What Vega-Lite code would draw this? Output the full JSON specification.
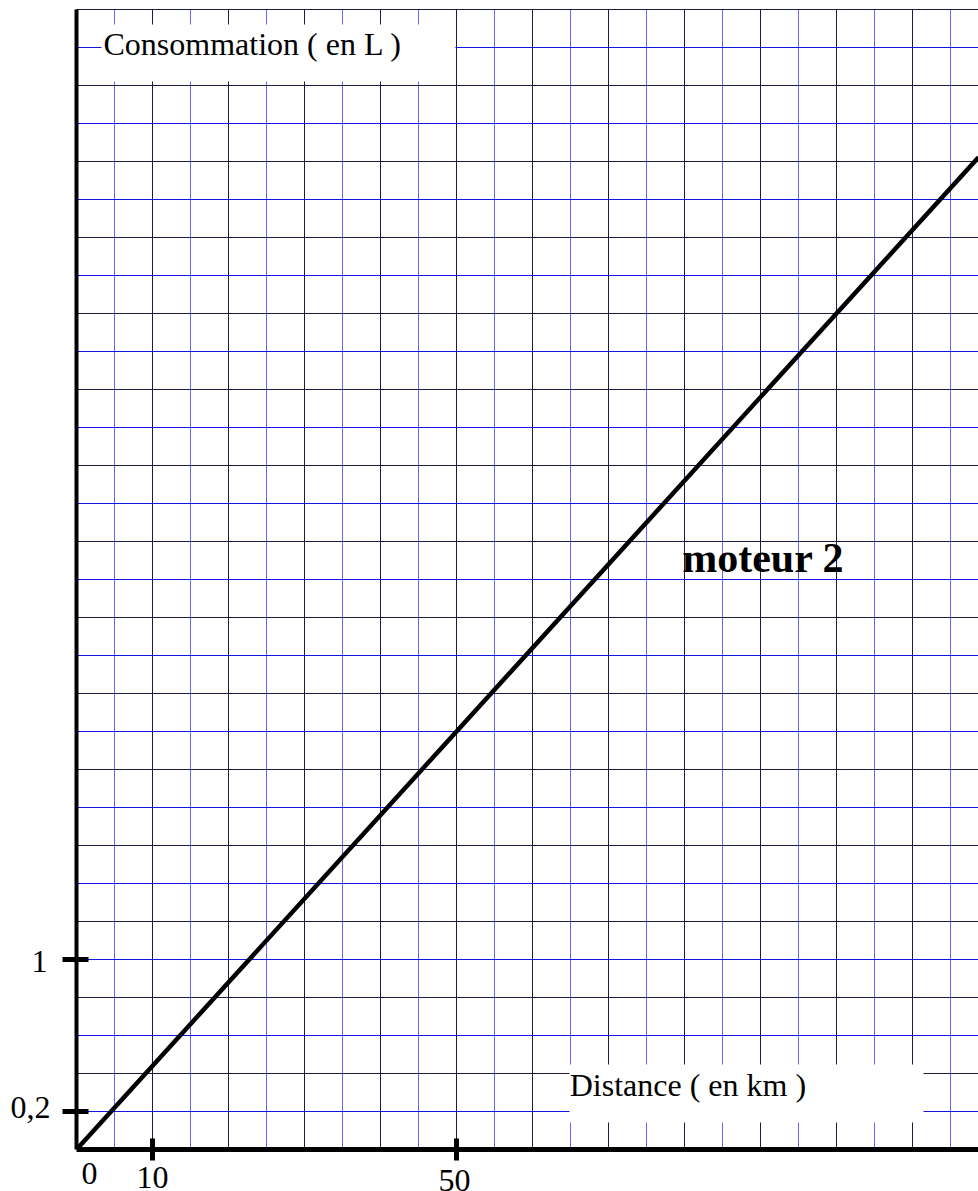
{
  "$schema": "https://vega.github.io/schema/vega-lite/v6.json",
  "autosize": {"type": "none"},
  "padding": {"left": 76.5, "top": 9.5, "right": 0, "bottom": 41.5},
  "width": 902,
  "height": 1140,
  "background": "white",
  "config": {"view": {"stroke": null}},
  "datasets": {
    "vgrid": [
      {"km": 5, "kind": "minor"}, {"km": 10, "kind": "major"}, {"km": 15, "kind": "minor"}, {"km": 20, "kind": "major"},
      {"km": 25, "kind": "minor"}, {"km": 30, "kind": "major"}, {"km": 35, "kind": "minor"}, {"km": 40, "kind": "major"},
      {"km": 45, "kind": "minor"}, {"km": 50, "kind": "major"}, {"km": 55, "kind": "minor"}, {"km": 60, "kind": "major"},
      {"km": 65, "kind": "minor"}, {"km": 70, "kind": "major"}, {"km": 75, "kind": "minor"}, {"km": 80, "kind": "major"},
      {"km": 85, "kind": "minor"}, {"km": 90, "kind": "major"}, {"km": 95, "kind": "minor"}, {"km": 100, "kind": "major"},
      {"km": 105, "kind": "minor"}, {"km": 110, "kind": "major"}, {"km": 115, "kind": "minor"}
    ],
    "hgrid": [
      {"L": 0.2, "kind": "minor"}, {"L": 0.4, "kind": "major"}, {"L": 0.6, "kind": "minor"}, {"L": 0.8, "kind": "major"},
      {"L": 1.0, "kind": "minor"}, {"L": 1.2, "kind": "major"}, {"L": 1.4, "kind": "minor"}, {"L": 1.6, "kind": "major"},
      {"L": 1.8, "kind": "minor"}, {"L": 2.0, "kind": "major"}, {"L": 2.2, "kind": "minor"}, {"L": 2.4, "kind": "major"},
      {"L": 2.6, "kind": "minor"}, {"L": 2.8, "kind": "major"}, {"L": 3.0, "kind": "minor"}, {"L": 3.2, "kind": "major"},
      {"L": 3.4, "kind": "minor"}, {"L": 3.6, "kind": "major"}, {"L": 3.8, "kind": "minor"}, {"L": 4.0, "kind": "major"},
      {"L": 4.2, "kind": "minor"}, {"L": 4.4, "kind": "major"}, {"L": 4.6, "kind": "minor"}, {"L": 4.8, "kind": "major"},
      {"L": 5.0, "kind": "minor"}, {"L": 5.2, "kind": "major"}, {"L": 5.4, "kind": "minor"}, {"L": 5.6, "kind": "major"},
      {"L": 5.8, "kind": "minor"}, {"L": 6.0, "kind": "major"}
    ],
    "boxes": [
      {"km": 3.29, "km2": 49.85, "L": 5.621, "L2": 5.921},
      {"km": 64.87, "km2": 111.45, "L": 0.142, "L2": 0.447}
    ],
    "captions": [
      {"km": 3.55, "L": 5.758, "label": "Consommation ( en L )"},
      {"km": 64.9, "L": 0.284, "label": "Distance  ( en km )"}
    ],
    "series": [
      {"km": 0, "L": 0, "moteur": "moteur 2"},
      {"km": 118.684, "L": 5.222, "moteur": "moteur 2"}
    ],
    "seriesLabel": [{"km": 79.7, "L": 3.042, "label": "moteur 2"}],
    "xticks": [{"km": 10, "L": 0}, {"km": 50, "L": 0}],
    "yticks": [{"km": 0, "L": 1}, {"km": 0, "L": 0.2}]
  },
  "encoding": {
    "x": {"type": "quantitative", "scale": {"domain": [0, 118.684], "nice": false, "zero": false}, "axis": null},
    "y": {"type": "quantitative", "scale": {"domain": [0, 6], "nice": false, "zero": false}, "axis": null}
  },
  "layer": [
    {
      "data": {"name": "vgrid"},
      "mark": {"type": "rule", "strokeWidth": 1},
      "encoding": {
        "x": {"field": "km", "type": "quantitative"},
        "stroke": {"condition": {"test": "datum.kind === 'major'", "value": "#1c1c44"}, "value": "#6464ff"}
      }
    },
    {
      "data": {"name": "hgrid"},
      "mark": {"type": "rule", "strokeWidth": 1},
      "encoding": {
        "y": {"field": "L", "type": "quantitative"},
        "stroke": {"condition": {"test": "datum.kind === 'major'", "value": "#1c1c44"}, "value": "#1414e6"}
      }
    },
    {
      "data": {"name": "boxes"},
      "mark": {"type": "rect", "fill": "white", "stroke": null},
      "encoding": {
        "x": {"field": "km", "type": "quantitative"},
        "x2": {"field": "km2"},
        "y": {"field": "L", "type": "quantitative"},
        "y2": {"field": "L2"}
      }
    },
    {
      "data": {"name": "captions"},
      "mark": {"type": "text", "align": "left", "baseline": "alphabetic", "font": "Liberation Serif", "fontSize": 32, "color": "black"},
      "encoding": {
        "x": {"field": "km", "type": "quantitative"},
        "y": {"field": "L", "type": "quantitative"},
        "text": {"field": "label"}
      }
    },
    {
      "data": {"name": "seriesLabel"},
      "mark": {"type": "text", "align": "left", "baseline": "alphabetic", "font": "Liberation Serif", "fontSize": 42, "fontWeight": "bold", "color": "black"},
      "encoding": {
        "x": {"field": "km", "type": "quantitative"},
        "y": {"field": "L", "type": "quantitative"},
        "text": {"field": "label"}
      }
    },
    {
      "data": {"values": [{"km": 0}]},
      "mark": {"type": "rule", "strokeWidth": 4, "color": "black"},
      "encoding": {"x": {"field": "km", "type": "quantitative"}}
    },
    {
      "data": {"values": [{"L": 0}]},
      "mark": {"type": "rule", "strokeWidth": 5, "color": "black"},
      "encoding": {"y": {"field": "L", "type": "quantitative"}}
    },
    {
      "data": {"name": "series"},
      "mark": {"type": "line", "strokeWidth": 4.5, "color": "black", "clip": true},
      "encoding": {
        "x": {"field": "km", "type": "quantitative"},
        "y": {"field": "L", "type": "quantitative"},
        "detail": {"field": "moteur"}
      }
    },
    {
      "data": {"name": "xticks"},
      "mark": {"type": "tick", "orient": "vertical", "size": 22, "thickness": 5, "color": "black", "opacity": 1},
      "encoding": {
        "x": {"field": "km", "type": "quantitative"},
        "y": {"field": "L", "type": "quantitative"}
      }
    },
    {
      "data": {"name": "yticks"},
      "mark": {"type": "tick", "orient": "horizontal", "size": 26, "thickness": 5, "color": "black", "opacity": 1, "xOffset": -1},
      "encoding": {
        "x": {"field": "km", "type": "quantitative"},
        "y": {"field": "L", "type": "quantitative"}
      }
    },
    {
      "data": {"values": [{"km": 0, "L": 0, "label": "0"}]},
      "mark": {"type": "text", "align": "center", "baseline": "alphabetic", "font": "Liberation Serif", "fontSize": 32, "color": "black", "dx": 13, "dy": 34},
      "encoding": {
        "x": {"field": "km", "type": "quantitative"},
        "y": {"field": "L", "type": "quantitative"},
        "text": {"field": "label"}
      }
    },
    {
      "data": {"values": [{"km": 10, "L": 0, "label": "10"}]},
      "mark": {"type": "text", "align": "center", "baseline": "alphabetic", "font": "Liberation Serif", "fontSize": 32, "color": "black", "dy": 38},
      "encoding": {
        "x": {"field": "km", "type": "quantitative"},
        "y": {"field": "L", "type": "quantitative"},
        "text": {"field": "label"}
      }
    },
    {
      "data": {"values": [{"km": 50, "L": 0, "label": "50"}]},
      "mark": {"type": "text", "align": "center", "baseline": "alphabetic", "font": "Liberation Serif", "fontSize": 32, "color": "black", "dx": -2, "dy": 41},
      "encoding": {
        "x": {"field": "km", "type": "quantitative"},
        "y": {"field": "L", "type": "quantitative"},
        "text": {"field": "label"}
      }
    },
    {
      "data": {"values": [{"km": 0, "L": 1, "label": "1"}]},
      "mark": {"type": "text", "align": "right", "baseline": "alphabetic", "font": "Liberation Serif", "fontSize": 32, "color": "black", "dx": -29, "dy": 12},
      "encoding": {
        "x": {"field": "km", "type": "quantitative"},
        "y": {"field": "L", "type": "quantitative"},
        "text": {"field": "label"}
      }
    },
    {
      "data": {"values": [{"km": 0, "L": 0.2, "label": "0,2"}]},
      "mark": {"type": "text", "align": "right", "baseline": "alphabetic", "font": "Liberation Serif", "fontSize": 32, "color": "black", "dx": -26, "dy": 6},
      "encoding": {
        "x": {"field": "km", "type": "quantitative"},
        "y": {"field": "L", "type": "quantitative"},
        "text": {"field": "label"}
      }
    }
  ]
}
